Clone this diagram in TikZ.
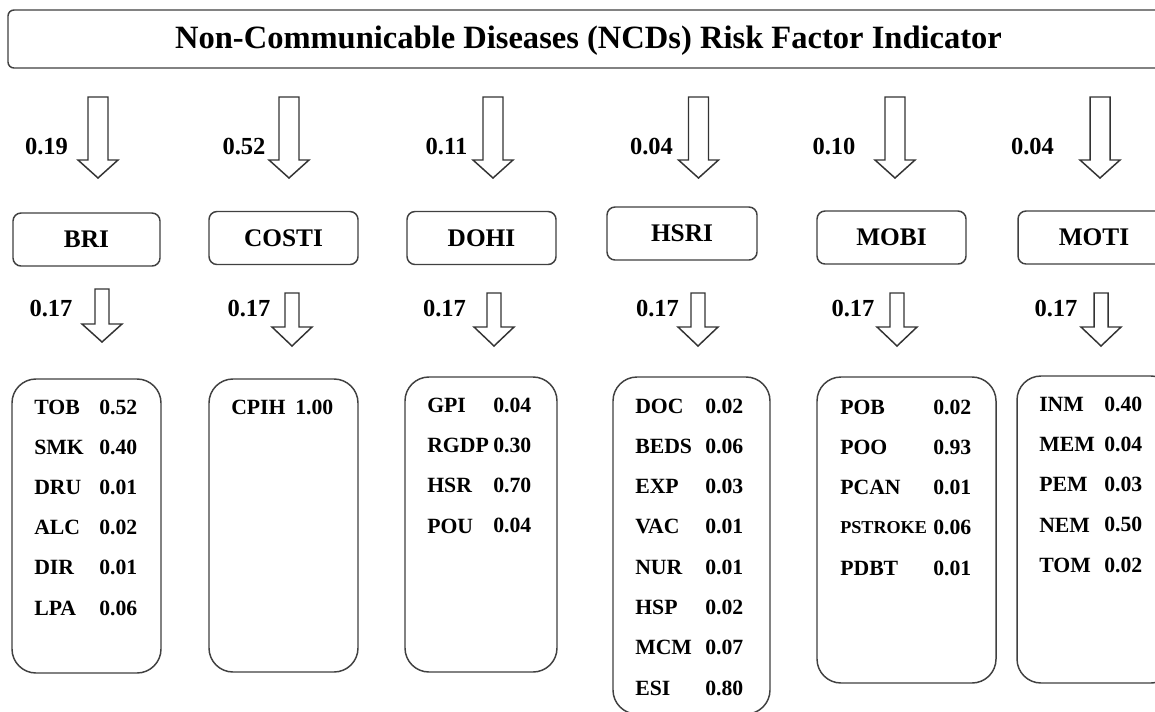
\documentclass[tikz,border=0pt]{standalone}
\usepackage{fontspec}
\setmainfont{Liberation Serif}
% hollow downward block arrow: x centre, top, start of head, tip, half shaft width
\newcommand\downblock[5]{%
  \draw[blockarrow] (#1-#5,#2) -- (#1+#5,#2) -- (#1+#5,#3) -- (#1+20,#3)
    -- (#1,#4) -- (#1-20,#3) -- (#1-#5,#3) -- cycle;}
\newcommand\narrowlabel[1]{{\fontsize{13.6}{15}\selectfont #1}}
\begin{document}
\begin{tikzpicture}[x=0.75pt,y=-0.75pt,
  frame/.style={draw=black!75, line width=1.1pt},
  titlebox/.style={frame, rounded corners=4.5pt, minimum width=871.5pt,
    minimum height=43.5pt, inner sep=0pt},
  midbox/.style={frame, rounded corners=6pt, minimum height=39.75pt,
    inner sep=0pt, font=\bfseries\fontsize{19}{22}\selectfont},
  listbox/.style={frame, rounded corners=18pt, inner sep=0pt},
  weight/.style={inner sep=0pt, font=\bfseries\fontsize{18.4}{20}\selectfont},
  cell/.style={anchor=west, inner sep=0pt, font=\bfseries\fontsize{16.3}{18}\selectfont},
  blockarrow/.style={draw=black!80, line width=1.1pt, fill=white, line join=miter}
]
\useasboundingbox (0,0) rectangle (1155,711);
\clip (0,0) rectangle (1155,711);
\fill[white] (0,0) rectangle (1155,711);

% heading
\node[titlebox] (title) at (589,39) {};
\node[anchor=base, inner sep=0pt, font=\bfseries\fontsize{24.4}{28}\selectfont]
  (titletext) at (588.5,48) {Non-Communicable Diseases (NCDs) Risk Factor Indicator};

% weights of the six sub-indices
\foreach \cx/\lx/\w in {98/46.5/0.19, 289/244/0.52, 493/446.5/0.11,
                        698.5/651.5/0.04, 895/834/0.10, 1100/1032.5/0.04} {
  \downblock{\cx}{97}{160}{178}{10}
  \node[weight] at (\lx,147) {\w};
}

% sub-index boxes
\node[midbox, minimum width=110.25pt] (bri)   at (86.5,239.5) {BRI};
\node[midbox, minimum width=111.75pt] (costi) at (283.5,238)  {COSTI};
\node[midbox, minimum width=111.75pt] (dohi)  at (481.5,238)  {DOHI};
\node[midbox, minimum width=112.5pt]  (hsri)  at (682,233.5)  {HSRI};
\node[midbox, minimum width=111.75pt] (mobi)  at (891.5,237.5){MOBI};
\node[midbox, minimum width=114pt]    (moti)  at (1094,237.5) {MOTI};

% weights of the indicator groups
\downblock{102}{289}{324}{342}{7}
\node[weight] at (51,309) {0.17};
\foreach \cx/\lx in {292/249, 494/444.5, 698/657.5, 897/853, 1101/1056} {
  \downblock{\cx}{293}{327}{346}{7}
  \node[weight] at (\lx,309) {0.17};
}

% indicator boxes
\node[listbox, minimum width=111.75pt, minimum height=220.5pt]  (brilist)   at (86.5,526)   {};
\node[listbox, minimum width=111.75pt, minimum height=219.75pt] (costilist) at (283.5,525.5) {};
\node[listbox, minimum width=114pt,    minimum height=221.25pt] (dohilist)  at (481,524.5)  {};
\node[listbox, minimum width=117.75pt, minimum height=252.75pt] (hsrilist)  at (691.5,545.5) {};
\node[listbox, minimum width=134.25pt, minimum height=229.5pt]  (mobilist)  at (906.5,530)  {};
\node[listbox, minimum width=118.5pt,  minimum height=230.25pt] (motilist)  at (1096,529.5) {};

% indicator weights
\foreach \lab/\val [count=\i] in {TOB/0.52, SMK/0.40, DRU/0.01, ALC/0.02, DIR/0.01, LPA/0.06} {
  \node[cell] (bri-l\i) at (34,{407+40.2*(\i-1)}) {\lab};
  \node[cell] (bri-v\i) at (99,{407+40.2*(\i-1)}) {\val};
}
\node[cell] (costi-l1) at (231,407) {CPIH};
\node[cell] (costi-v1) at (295,407) {1.00};
\foreach \lab/\val [count=\i] in {GPI/0.04, RGDP/0.30, HSR/0.70, POU/0.04} {
  \node[cell] (dohi-l\i) at (427,{405+40.3*(\i-1)}) {\lab};
  \node[cell] (dohi-v\i) at (493,{405+40.3*(\i-1)}) {\val};
}
\foreach \lab/\val [count=\i] in {DOC/0.02, BEDS/0.06, EXP/0.03, VAC/0.01,
                                  NUR/0.01, HSP/0.02, MCM/0.07, ESI/0.80} {
  \node[cell] (hsri-l\i) at (635,{406+40.3*(\i-1)}) {\lab};
  \node[cell] (hsri-v\i) at (705,{406+40.3*(\i-1)}) {\val};
}
\foreach \lab/\val [count=\i] in {POB/0.02, POO/0.93, PCAN/0.01,
                                  \narrowlabel{PSTROKE}/0.06, PDBT/0.01} {
  \node[cell] (mobi-l\i) at (840,{407+40.3*(\i-1)}) {\lab};
  \node[cell] (mobi-v\i) at (933,{407+40.3*(\i-1)}) {\val};
}
\foreach \lab/\val [count=\i] in {INM/0.40, MEM/0.04, PEM/0.03, NEM/0.50, TOM/0.02} {
  \node[cell] (moti-l\i) at (1039,{404+40.3*(\i-1)}) {\lab};
  \node[cell] (moti-v\i) at (1104,{404+40.3*(\i-1)}) {\val};
}
\end{tikzpicture}
\end{document}
